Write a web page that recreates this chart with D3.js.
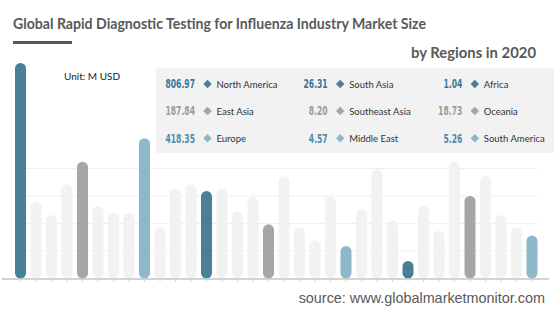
<!DOCTYPE html>
<html>
<head>
<meta charset="utf-8">
<script src="https://cdn.jsdelivr.net/npm/d3@7"></script>
<style>
  html, body { margin: 0; padding: 0; background: #ffffff; }
  svg { display: block; }
</style>
</head>
<body>
<svg id="chart" width="554" height="312"></svg>
<script>
// ---------------- data ----------------
const titleText = "Global Rapid Diagnostic Testing for Influenza Industry Market Size";
const subtitleText = "by Regions in 2020";
const unitText = "Unit: M USD";
const sourceText = "source: www.globalmarketmonitor.com";

const regions = ["North America", "East Asia", "Europe",
                 "South Asia", "Southeast Asia", "Middle East",
                 "Africa", "Oceania", "South America"];
const values  = [806.97, 187.84, 418.35,
                 26.31, 8.20, 4.57,
                 1.04, 18.73, 5.26];
// decorative bar level (as drawn, in gridline units) and slot of each region bar
const regionLevels = [7.84, 4.25, 5.10, 3.18, 1.97, 1.18, 0.64, 3.00, 1.56];
const regionSlots  = [0, 4, 8, 12, 16, 21, 25, 29, 33];
// faint backdrop bars filling the other slots, left to right
const backdropLevels = [2.79, 2.31, 3.44, 2.65, 2.38, 2.38, 1.85, 3.28, 3.43,
                        3.28, 2.43, 2.97, 3.73, 1.85, 1.40, 2.97, 2.53, 3.98,
                        2.10, 2.64, 1.74, 4.25, 3.74, 2.31, 1.85];
const gridLevels = [1, 2, 3, 4];
const slotCount = 34;

// ---------------- styles ----------------
const toneColors  = ["#4a7f99", "#a6a6a6", "#8db8ca"];   // bar / diamond, by legend row
const valueColors = ["#3e7590", "#9a9a9a", "#4d8cab"];
const backdropColor = "#f2f2f2";

const svg = d3.select("#chart");

// build slot table
const slots = [];
let bi = 0;
for (let i = 0; i < slotCount; i++) {
  const r = regionSlots.indexOf(i);
  if (r >= 0) slots.push({ slot: i, level: regionLevels[r], fill: toneColors[r % 3] });
  else slots.push({ slot: i, level: backdropLevels[bi++], fill: backdropColor });
}

const x = d3.scalePoint().domain(d3.range(slotCount)).range([20.5, 532]);
const y = d3.scaleLinear().domain([0, 8]).range([278.5, 58.5]);
const barW = 11;

// gridlines
svg.append("g").selectAll("line").data(gridLevels).join("line")
  .attr("x1", 15).attr("x2", 538)
  .attr("y1", d => y(d)).attr("y2", d => y(d))
  .attr("stroke", "#efefef").attr("stroke-width", 1);

// bars
svg.append("g").selectAll("rect").data(slots).join("rect")
  .attr("x", d => x(d.slot) - barW / 2)
  .attr("width", barW)
  .attr("y", d => y(d.level))
  .attr("height", d => y(0) - y(d.level))
  .attr("rx", barW / 2).attr("ry", barW / 2)
  .attr("fill", d => d.fill);

// baseline + ticks
svg.append("line")
  .attr("x1", 2).attr("x2", 549)
  .attr("y1", y(0) + 0.5).attr("y2", y(0) + 0.5)
  .attr("stroke", "#c4c4c4").attr("stroke-width", 1.5);
svg.append("g").selectAll("line").data(d3.range(slotCount)).join("line")
  .attr("x1", d => x(d)).attr("x2", d => x(d))
  .attr("y1", y(0) + 1).attr("y2", y(0) + 3)
  .attr("stroke", "#d0d0d0").attr("stroke-width", 1);

// title
svg.append("text")
  .attr("x", 13).attr("y", 29)
  .attr("textLength", 413).attr("lengthAdjust", "spacingAndGlyphs")
  .style("font-family", "Lato, 'Liberation Sans', sans-serif")
  .style("font-weight", 700).style("font-size", "14.5px")
  .attr("fill", "#595959")
  .text(titleText);
svg.append("rect").attr("x", 13).attr("y", 41).attr("width", 59).attr("height", 3)
  .attr("fill", "#595959");
svg.append("text")
  .attr("x", 536).attr("y", 58).attr("text-anchor", "end")
  .attr("textLength", 125).attr("lengthAdjust", "spacingAndGlyphs")
  .style("font-family", "Lato, 'Liberation Sans', sans-serif")
  .style("font-weight", 700).style("font-size", "14.5px")
  .attr("fill", "#595959")
  .text(subtitleText);

// unit
svg.append("text")
  .attr("x", 64).attr("y", 80)
  .style("font-family", "Lato, 'Liberation Sans', sans-serif")
  .style("font-size", "10px")
  .attr("fill", "#222")
  .text(unitText);

// legend panel
svg.append("rect").attr("x", 156).attr("y", 68).attr("width", 398).attr("height", 85)
  .attr("fill", "#f2f2f2");

const colValueRight = [195, 327.7, 462.3];
const rowCenter = [84, 111, 138.3];
const legend = svg.append("g").selectAll("g").data(regions).join("g")
  .attr("transform", (d, i) => `translate(${colValueRight[Math.floor(i / 3)]},${rowCenter[i % 3]})`);
legend.append("text")
  .attr("x", 0).attr("y", 4.2).attr("text-anchor", "end")
  .attr("transform", "scale(0.74,1)")
  .style("font-family", "'DejaVu Sans Condensed', 'Liberation Sans Narrow', sans-serif")
  .style("font-weight", 700).style("font-size", "11.5px")
  .attr("fill", (d, i) => valueColors[i % 3])
  .text((d, i) => values[i].toFixed(2));
legend.append("rect")
  .attr("x", -3).attr("y", -3).attr("width", 6).attr("height", 6)
  .attr("transform", "translate(12.5,0) rotate(45)")
  .attr("fill", (d, i) => toneColors[i % 3]);
legend.append("text")
  .attr("x", 21.5).attr("y", 3.5)
  .style("font-family", "Lato, 'Liberation Sans', sans-serif")
  .style("font-size", "9.5px")
  .attr("fill", "#333")
  .text(d => d);

// source
svg.append("text")
  .attr("x", 545).attr("y", 303).attr("text-anchor", "end")
  .style("font-family", "'Liberation Sans', Arial, sans-serif")
  .style("font-size", "14.4px")
  .attr("fill", "#595959")
  .text(sourceText);
</script>
</body>
</html>
